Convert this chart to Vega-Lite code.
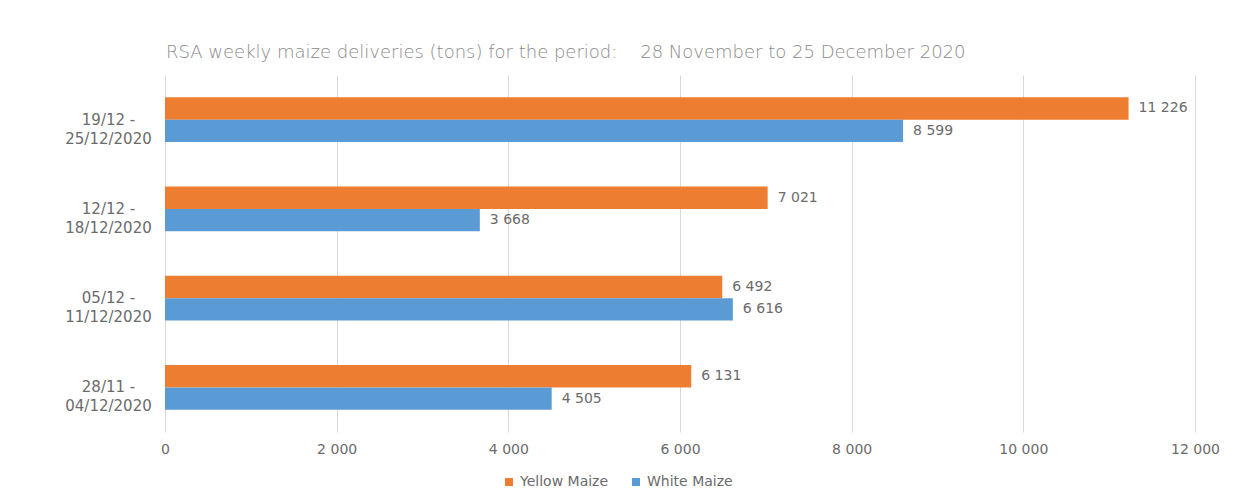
{
  "$schema": "https://vega.github.io/schema/vega-lite/v6.json",
  "width": 1030,
  "height": 357,
  "autosize": {"type": "none"},
  "padding": {"left": 165, "top": 75, "right": 49, "bottom": 72},
  "background": "white",
  "title": {
    "text": "RSA weekly maize deliveries (tons) for the period:\u00a0\u00a0\u00a0 28 November to 25 December 2020",
    "anchor": "start",
    "frame": "group",
    "font": "DejaVu Sans",
    "fontSize": 18,
    "fontWeight": 200,
    "color": "#8a8a8a",
    "offset": 13,
    "dx": 1
  },
  "data": {
    "values": [
      {"week": "19/12 -|25/12/2020", "type": "Yellow Maize", "tons": 11226},
      {"week": "19/12 -|25/12/2020", "type": "White Maize", "tons": 8599},
      {"week": "12/12 -|18/12/2020", "type": "Yellow Maize", "tons": 7021},
      {"week": "12/12 -|18/12/2020", "type": "White Maize", "tons": 3668},
      {"week": "05/12 -|11/12/2020", "type": "Yellow Maize", "tons": 6492},
      {"week": "05/12 -|11/12/2020", "type": "White Maize", "tons": 6616},
      {"week": "28/11 -|04/12/2020", "type": "Yellow Maize", "tons": 6131},
      {"week": "28/11 -|04/12/2020", "type": "White Maize", "tons": 4505}
    ]
  },
  "encoding": {
    "y": {
      "field": "week",
      "type": "nominal",
      "sort": null,
      "title": null,
      "scale": {"paddingInner": 0.5, "paddingOuter": 0.25},
      "axis": {
        "labelExpr": "split(datum.label, '|')",
        "labelAlign": "center",
        "labelPadding": 57,
        "labelFont": "DejaVu Sans",
        "labelFontSize": 15,
        "labelColor": "#6b6b6b",
        "labelLineHeight": 19,
        "ticks": false,
        "domain": false
      }
    },
    "yOffset": {"field": "type", "type": "nominal", "sort": ["Yellow Maize", "White Maize"]},
    "x": {
      "field": "tons",
      "type": "quantitative",
      "title": null,
      "scale": {"domain": [0, 12000]},
      "axis": {
        "values": [0, 2000, 4000, 6000, 8000, 10000, 12000],
        "labelExpr": "replace(format(datum.value, ','), ',', ' ')",
        "labelFont": "DejaVu Sans",
        "labelFontSize": 14,
        "labelColor": "#6b6b6b",
        "labelPadding": 10,
        "ticks": false,
        "domain": false,
        "gridColor": "#d9d9d9",
        "labelFlush": false
      }
    }
  },
  "layer": [
    {
      "mark": {"type": "bar"},
      "encoding": {
        "color": {
          "field": "type",
          "type": "nominal",
          "scale": {"domain": ["Yellow Maize", "White Maize"], "range": ["#ED7D31", "#5B9BD5"]},
          "legend": {
            "title": null,
            "orient": "none",
            "direction": "horizontal",
            "legendX": 337,
            "legendY": 400,
            "symbolType": "square",
            "symbolSize": 64,
            "symbolStrokeWidth": 0,
            "labelOffset": 4,
            "labelFont": "DejaVu Sans",
            "labelFontSize": 14,
            "labelColor": "#6b6b6b",
            "columnPadding": 20
          }
        }
      }
    },
    {
      "mark": {"type": "text", "align": "left", "baseline": "middle", "dx": 10, "font": "DejaVu Sans", "fontSize": 14, "color": "#6b6b6b"},
      "encoding": {
        "text": {"field": "tons", "type": "quantitative", "format": ","}
      }
    }
  ],
  "config": {
    "view": {"stroke": null},
    "locale": {"number": {"decimal": ".", "thousands": "\u00a0", "grouping": [3], "currency": ["", ""]}}
  }
}
